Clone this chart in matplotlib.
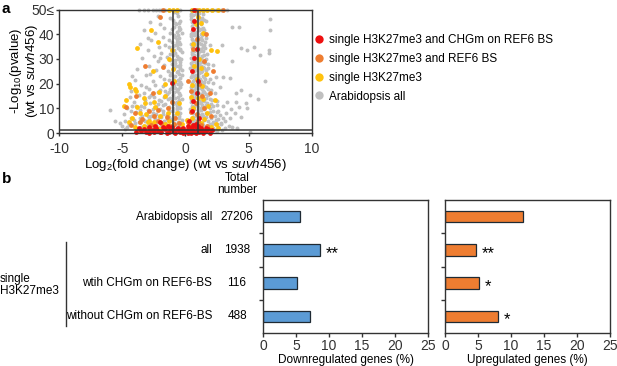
import matplotlib
matplotlib.use("Agg")
import matplotlib.pyplot as plt
from matplotlib.lines import Line2D
from matplotlib.transforms import blended_transform_factory

plt.rcParams['font.family'] = ['Liberation Sans', 'DejaVu Sans']
plt.rcParams['mathtext.fontset'] = 'custom'
plt.rcParams['mathtext.rm'] = 'Liberation Sans'
plt.rcParams['mathtext.it'] = 'Liberation Sans:italic'
plt.rcParams['mathtext.bf'] = 'Liberation Sans:bold'

# ---------------- Panel a: volcano plot data (log2 FC, -log10 p) ----------------
gray_points = [
    # right band
    (0.5,49.5),(0.8,49),(1.1,48.5),(1.4,49.2),(0.6,47.8),(1.0,47),(1.3,46.5),(0.4,46),(0.9,45.5),(1.6,45.2),(0.7,44.6),(1.2,44),
    (0.5,43.5),(0.9,43),(1.4,42.6),(0.6,42),(1.1,41.5),(0.8,41),(1.5,40.6),(0.4,40.2),(1.2,40),
    (0.7,39.5),(1.0,39),(1.6,38.6),(0.5,38.2),(1.3,37.8),(0.8,37.2),(1.1,36.6),(0.4,36.2),(1.5,35.8),(0.9,35.2),(1.9,35.5),
    (0.6,34.6),(1.2,34.2),(0.8,33.6),(1.4,33.2),(0.5,32.8),(1.0,32.2),(1.7,31.8),(0.7,31.4),(1.3,31),(0.4,30.5),(0.9,30.2),(1.6,30),
    (1.1,29.6),(0.6,29.2),(1.4,28.8),(0.8,28.3),(1.8,28),(0.5,27.6),(1.2,27.2),(0.9,26.7),(1.5,26.3),(0.4,25.9),(1.0,25.5),(2.2,27.5),(0.7,25.1),(1.3,25),
    (0.6,24.6),(1.1,24.2),(1.7,23.8),(0.8,23.4),(1.4,23),(0.4,22.6),(1.0,22.2),(1.9,21.8),(0.7,21.4),(1.2,21),(1.5,20.6),(0.5,20.2),(0.9,20),(2.4,22.5),
    (1.1,19.6),(0.6,19.2),(1.6,18.8),(0.8,18.4),(1.3,18),(2.0,17.6),(0.4,17.2),(1.0,16.8),(1.5,16.4),(0.7,16),(1.2,15.6),(1.8,15.2),(0.5,15),(2.3,16.2),
    (0.9,14.6),(1.4,14.2),(0.6,13.8),(2.1,13.4),(1.1,13),(0.4,12.6),(1.7,12.2),(0.8,11.8),(1.3,11.4),(2.5,11.5),(0.5,11),(1.0,10.6),(1.9,10.2),(1.5,10),
    (0.7,9.6),(1.2,9.2),(2.2,8.8),(0.4,8.4),(1.6,8),(0.9,7.6),(2.7,7.2),(1.4,6.8),(0.6,6.4),(2.0,6),(1.1,5.6),(0.3,5.2),(1.8,5),(2.4,5.4),(3.0,6.2),
    (0.5,4.6),(1.3,4.2),(2.1,3.8),(0.8,3.4),(1.7,3),(2.6,2.6),(0.3,2.2),(1.0,1.8),(2.3,1.4),(1.5,1),(3.1,2.0),(2.9,1.2),
    (0.55,44.8),(1.05,38),(0.65,35.8),(1.15,28.6),(0.75,18.9),(1.25,12.7),(0.95,8.3),(0.35,26.5),(1.55,21.8),(1.45,45.6),
    (0.45,48.2),(1.25,42.2),(0.85,39.8),(1.35,35),(0.55,31.8),(1.05,27.9),(0.65,23),(1.35,19.8),(0.85,15.4),(0.45,13.6),
    (1.65,14),(1.2,7.2),(0.75,5.2),(1.9,3.5),(0.35,9.8),(1.75,26.5),(1.0,34.5),(0.6,40.8),(1.15,46.2),(0.8,48),
    (0.45,47.2),(0.95,46.8),(1.35,48),(0.65,45.8),(1.2,45.2),(0.55,41.2),(1.0,42.5),(1.45,41.5),(0.75,40.2),(1.3,39.6),
    (0.45,39.2),(1.2,38.5),(0.95,37.8),(1.55,37),(0.6,37.2),(0.85,36.2),(1.25,36),(0.5,34.8),(1.55,34.4),(0.7,33.2),
    (1.15,33),(0.95,31.5),(1.45,31.6),(0.6,30.8),(1.2,30.2),(0.85,29.4),(1.55,28.4),(0.45,28.5),(1.0,27.6),(1.35,26.7),
    (0.6,26.3),(0.85,25.6),(1.6,25.4),(1.25,24.5),(0.5,23.6),(0.95,23.2),(1.5,22.7),(0.75,22.3),(1.15,21.7),(1.75,20.8),
    (0.6,21.2),(1.3,20.3),(0.85,19.7),(1.5,19.2),(0.45,18.6),(1.1,18.2),(1.8,17.8),(0.65,17.6),(1.4,17.2),(0.9,16.4),
    (1.6,15.8),(0.5,16.2),(1.25,14.8),(0.7,14.2),(1.9,13.8),(1.05,12.2),(1.5,12.8),(0.55,12.4),(0.9,11.2),(1.6,11.2),
    (2.2,10.8),(1.25,10.2),(0.7,10.8),(1.0,9.4),(1.5,9.6),(1.9,8.6),(2.5,8.4),(0.6,8.2),(1.3,7.8),(2.3,7),
    (0.8,6.8),(1.6,6.4),(2.6,5.8),(1.0,6.2),(0.5,5.4),(1.5,5.2),(2.2,4.6),(0.7,4.4),(1.1,4.0),(2.8,3.6),
    (1.4,3.4),(0.45,3.6),(1.9,2.2),(2.5,1.0),(1.2,2.6),(0.6,1.4),
    # left band
    (-0.9,49),(-0.6,47.5),(-1.2,46.5),(-0.4,45.5),
    (-0.8,44.5),(-0.5,43),(-1.1,42),(-0.7,41),(-0.3,40.3),
    (-0.9,39.5),(-0.5,38.5),(-1.3,37.8),(-0.7,37),(-0.4,36),(-1.0,35.3),
    (-0.6,34.5),(-0.9,33.6),(-0.3,32.8),(-1.2,32),(-0.7,31.2),(-0.5,30.4),(-1.5,30.8),
    (-0.8,29.6),(-0.4,28.8),(-1.1,28),(-0.6,27.2),(-0.9,26.4),(-0.3,25.6),(-1.4,25.2),
    (-0.7,24.6),(-0.5,23.8),(-1.0,23),(-0.4,22.2),(-1.3,21.4),(-0.8,20.6),(-0.6,20),
    (-0.9,19.4),(-0.4,18.6),(-1.2,17.8),(-0.7,17),(-0.5,16.2),(-1.5,15.6),(-1.0,15.2),
    (-0.6,14.6),(-0.3,13.8),(-1.1,13),(-0.8,12.2),(-1.6,11.6),(-0.5,11),(-1.3,10.4),
    (-0.7,9.6),(-1.0,8.8),(-0.4,8),(-1.5,7.2),(-0.8,6.4),(-1.2,5.6),(-0.3,5.2),
    (-0.6,4.6),(-1.0,3.8),(-0.4,3),(-1.4,2.2),(-0.8,1.6),(-0.2,1),
    (-0.55,41.8),(-0.85,35.8),(-0.45,26.4),(-0.95,21.8),(-0.65,12.6),(-0.75,44),(-0.35,30),(-1.05,18.5),
    (-0.65,38),(-1.15,24.2),(-0.45,33.5),(-0.85,28.2),(-0.35,19.8),(-0.95,10.2),(-0.55,7),(-1.1,2.8),
    (-0.7,48.4),(-1.0,45.6),(-0.5,44.6),(-0.9,42.8),(-0.4,42),(-1.2,40.5),(-0.6,39.8),(-0.8,38.8),(-1.1,37),(-0.5,36.8),
    (-0.7,35.6),(-1.3,34.8),(-0.4,34),(-0.8,32.2),(-1.0,31.4),(-0.6,29.8),(-1.2,29.6),(-0.4,27.6),(-0.8,27),(-1.0,25.8),
    (-0.6,25),(-1.2,23.6),(-0.8,23),(-0.3,23.4),(-0.6,21.6),(-1.1,20.8),(-0.4,20.6),(-0.8,18.2),(-1.3,16.6),(-0.6,17.8),
    (-0.9,16.8),(-0.4,15.4),(-1.2,14.2),(-0.8,14),(-0.5,13.2),(-1.4,13.6),(-1.0,11.8),(-0.7,11),(-0.4,10.2),(-1.2,9),
    (-0.6,8.6),(-0.9,7.4),(-1.3,6.6),(-0.5,6),(-1.0,5),(-0.7,3.4),(-1.6,4),(-1.2,1.4),(-0.4,1.8),
    # left cloud
    (-2.8,45),(-2.0,44),(-3.3,41.5),(-2.4,40.5),(-1.8,39),(-3.6,36),(-2.7,37.5),(-2.1,35),(-3.0,33.5),(-1.9,32.5),
    (-2.5,31),(-3.4,30.3),(-2.2,29),(-1.7,27.5),(-2.9,27),(-3.8,26),(-2.3,25.5),(-3.1,23.5),(-2.0,23),(-4.0,21.5),
    (-2.6,21),(-3.5,19.5),(-1.8,19),(-2.9,18),(-4.3,17),(-2.2,16.5),(-3.7,15.5),(-2.5,14.5),(-3.2,13.5),(-1.9,13),
    (-4.1,12.5),(-2.8,12),(-3.5,11),(-2.3,10.5),(-4.6,10),(-3.0,9.5),(-1.8,9),(-3.9,8.5),(-2.6,8),(-4.9,7.5),
    (-3.4,7),(-2.1,6.5),(-4.3,6),(-2.9,5.5),(-1.7,5),(-3.7,4.5),(-5.2,4.2),(-2.4,4),(-4.5,3.5),(-3.1,3),
    (-2.0,2.5),(-3.9,2),(-2.7,1.5),(-4.8,1.5),(-1.9,1),(-3.4,0.8),(-5.6,5),(-6.0,9.5),(-4.4,14.5),(-3.3,16),
    (-2.4,19.5),(-4.2,23),(-3.0,38.5),(-1.7,42.5),(-2.2,47.5),(-1.6,35.5),(-2.0,30.5),(-1.7,22),(-2.7,15.5),(-1.8,11.5),
    (-3.6,9.5),(-2.3,7.5),(-4.0,4),(-1.9,6.5),(-2.5,2.8),(-4.3,8.8),(-3.3,5.2),(-2.1,13.5),(-1.6,17),(-2.8,23.8),
    (-3.0,6.8),(-2.4,5.6),(-1.8,7.6),(-3.6,6.2),(-2.7,7),(-2.0,4.2),(-3.2,4.8),(-4.1,5.2),(-2.5,1.8),(-1.7,3),
    (-3.5,2.6),(-2.9,3.8),(-2.1,1.6),(-4.6,2.4),(-1.8,1.8),(-3.8,1.4),(-2.3,3.4),(-1.5,5.6),(-2.6,9.8),(-3.3,10.5),
    (-2.0,9.6),(-3.9,11),(-2.2,11.8),(-1.7,14.5),(-2.9,14.6),(-3.1,18.5),(-2.0,17.5),(-4.2,10.8),(-4.8,5),(-5.0,2.8),
    # right cloud
    (3.65,42.8),(4.2,42.8),(6.67,46),(6.67,41.7),(2.9,35.6),(5.4,35),(4.4,34.3),(4.9,33.6),(6.6,33.6),(6.6,32.3),
    (5.9,31.6),(3.7,29.3),(3.0,22.8),(3.5,22.1),(6.3,21.2),(4.0,16),(4.4,17.5),(5.1,15.4),(5.7,13.6),(4.0,12.7),
    (4.8,12),(4.2,10.7),(4.9,10),(3.9,8),(4.4,6.6),(3.5,6),(2.6,9),(3.2,8),(2.8,4),(3.4,3),
    (3.7,2.5),(4.1,2),(3.0,11),(2.5,13),(5.1,0.3),(2.7,18.5),(3.3,12.5),(3.6,9.8),(2.2,20.2),(2.0,11.8),
    (3.1,4.8),(2.5,3.8),(2.2,2.2),
    # top row (50 or more)
    (-3.3,50),(-3.0,50),(-2.6,50),(-2.3,50),(-1.9,50),(-1.6,50),(-1.3,50),(-1.0,50),(-0.7,50),(-0.4,50),
    (0.4,50),(0.7,50),(1.0,50),(1.3,50),(1.7,50),(2.0,50),(2.4,50),(2.8,50),(3.3,50),(-3.7,50),(-2.1,50),(1.5,50),(2.2,50),
]

yellow_points = [
    (-2.7,41.7),(-3.8,34.3),(-2.6,25),(-1.3,29.8),(-4.5,20),(-4.4,18.5),(-4.0,18.0),(-3.9,17),(-4.9,11),(-3.3,14),
    (-2.5,12.5),(-2.4,10.5),(-1.6,20),(-1.6,15),(-1.0,26),(-3.6,8),(-4.2,6),(-2.9,5),(-2.0,7),(-1.3,5),
    (-3.3,3),(-2.3,2.5),(-4.0,2.5),(-1.6,3.5),(-0.7,8),(-0.5,12),(-1.1,33.5),(-0.9,21),(-2.2,37),(-3.1,7.5),
    (-1.3,50),(-1.0,50),(-0.7,50),(0.5,50),(1.1,50),(1.4,50),(1.7,50),(2.1,50),(2.6,50),
    (1.0,47),(1.2,44.5),(0.6,36),(1.1,30),(2.0,33.5),(2.5,33),(1.6,24),(0.9,22),(1.3,19),(1.0,14),
    (2.3,13.3),(0.6,10),(1.7,8),(0.5,6),(1.2,4),(0.3,3),(2.0,2.5),(2.6,2),(1.4,40.5),(0.7,27),
    (-2.0,1.5),(-3.6,1.2),(-1.4,8.2),(0.4,14.5),(1.8,11),(-2.7,3.8),
    (-3.0,4.3),(-2.5,4.6),(-1.0,3.2),(-0.3,3.6),(0.1,5.2),(1.5,5.6),(2.4,3.5),(-4.5,4.5),(-3.8,10.5),(-3.2,12),
    (-4.7,13.5),(-2.1,16.5),(1.4,13.6),(0.5,19.6),(1.2,26.2),(0.8,44),
]

orange_points = [
    (0.85,50),(3.0,50),(-1.8,50),(-2.0,47),(-3.2,27),(-1.75,26.9),(-2.6,16),(-3.9,15),(-2.9,9),(-4.7,10.5),
    (-1.4,10),(-2.2,5),(-3.6,4.3),(-0.8,6),(1.6,40),(0.6,34),(1.5,29),(2.2,25),(1.1,20),(0.4,17),
    (1.9,16),(0.8,12),(1.5,10),(0.4,8.5),(2.0,7),(1.0,5),(0.6,3),(1.7,3),(-1.2,3),(-0.5,4),
    (-3.0,1.8),(0.2,21),(-4.3,3.2),(-2.5,6.8),(-1.1,12.5),(0.9,38),(1.3,15),
    (-2.7,3.4),(-1.9,4),(-0.9,3.8),(0.2,4.5),(1.2,3.2),(-3.4,5.8),(-1.5,6.5),(0.9,7.8),(-2.2,9.3),(-4.0,8.0),
]

red_points = [
    (0.7,45.5),(0.6,42),(0.9,34),(0.7,30.5),(0.5,25.3),(1.0,21),(0.9,16),(0.6,13),(0.5,9),(1.1,6),
    (0.8,3.5),(0.3,5),(1.6,2),(0.7,50),(-1.06,20.4),(-2.0,4.5),
    (-3.5,1),(-3.1,0.5),(-2.8,1.4),(-2.5,0.3),(-2.2,1),(-1.9,0.6),(-1.6,1.5),(-1.3,0.4),(-1.0,1.1),(-0.8,0.2),
    (-0.5,0.8),(-0.3,1.6),(-0.1,0.4),(0.1,1.2),(0.3,0.6),(0.5,1.8),(0.7,0.3),(0.9,1.0),(1.1,0.5),(1.3,1.4),
    (1.6,0.7),(1.9,0.2),(-2.9,2.4),(-1.8,2.6),(-0.6,2.2),(0.2,2.8),(0.8,2.5),(-1.5,0.1),(-0.2,0.1),(0.4,0.1),
    (-2.3,2.0),(1.0,2.9),(-3.9,0.4),(2.1,1.3),
    (-3.3,1.8),(-2.6,1.2),(-2.0,0.3),(-1.7,2.0),(-1.1,2.4),(-0.9,0.6),(-0.4,0.3),(-0.2,2.0),(0.0,0.9),(0.2,0.2),
    (0.6,1.0),(0.8,0.1),(1.2,2.0),(1.4,0.2),(1.8,1.6),(-2.4,2.8),(-1.4,3.0),(-0.7,1.5),(0.4,2.2),(-3.7,2.2),
    (-2.9,0.2),(1.0,1.5),(-1.2,1.9),(0.6,3.2),
]

legend_labels = ["single H3K27me3 and CHGm on REF6 BS",
                 "single H3K27me3 and REF6 BS",
                 "single H3K27me3",
                 "Arabidopsis all"]

# ---------------- Panel b: bar data ----------------
categories = ["Arabidopsis all", "all", "wtih CHGm on REF6-BS", "without CHGm on REF6-BS"]
total_numbers = ["27206", "1938", "116", "488"]
down_pct = [5.65, 8.6, 5.15, 7.15]
up_pct = [11.75, 4.7, 5.15, 7.98]
down_sig = ["", "**", "", ""]
up_sig = ["", "**", "*", "*"]

c_gray = "#c0c0c0"
c_yellow = "#ffc20e"
c_orange = "#ee7d31"
c_red = "#ee1010"
c_blue = "#5b9bd5"
edge = "#1f2a33"
spine_c = "#333333"

W, H = 617, 366
fig = plt.figure(figsize=(W / 100, H / 100), dpi=100)

def fx(px):
    return px / W

def fy(py):
    return 1 - py / H

# ---- panel a
axa = fig.add_axes([fx(59), fy(133), fx(312) - fx(59), fy(9.5) - fy(133)])
for pts, col, s in [(gray_points, c_gray, 8), (yellow_points, c_yellow, 12),
                    (orange_points, c_orange, 12), (red_points, c_red, 12)]:
    xs = [p[0] for p in pts]
    ys = [p[1] for p in pts]
    axa.scatter(xs, ys, s=s, c=col, linewidths=0, clip_on=False, zorder=2)
axa.axvline(-1, color=spine_c, lw=1.1, zorder=3)
axa.axvline(1, color=spine_c, lw=1.1, zorder=3)
axa.axhline(1.301, color=spine_c, lw=1.1, zorder=3)
axa.set_xlim(-10, 10)
axa.set_ylim(0, 50)
axa.set_xticks([-10, -5, 0, 5, 10])
axa.set_xticklabels(["-10", "-5", "0", "5", "10"])
axa.set_yticks([0, 10, 20, 30, 40, 50])
axa.set_yticklabels(["0", "10", "20", "30", "40", "50≤"])
axa.tick_params(labelsize=10, length=2.5, width=1, colors=spine_c, pad=1)
axa.tick_params(axis="x", pad=4)
for sp in axa.spines.values():
    sp.set_color(spine_c)
    sp.set_linewidth(1)
axa.set_xlabel(r"Log$_2$(fold change) (wt vs $\it{suvh456}$)", fontsize=9.5, labelpad=1)
fig.text(fx(24), fy(71), "-Log$_{10}$(pvalue)\n" + r"(wt vs $\it{suvh456}$)", fontsize=9.5,
         rotation=90, ha="center", va="center", linespacing=0.95)

handles = [Line2D([], [], ls="none", marker="o", ms=6, mfc=c, mec="none")
           for c in [c_red, c_orange, c_yellow, c_gray]]
fig.legend(handles, legend_labels, loc="upper left", bbox_to_anchor=(fx(314), fy(34)),
           frameon=False, fontsize=8.5, handlelength=0.8, handletextpad=0.5,
           labelspacing=0.58, borderpad=0, borderaxespad=0)

# ---- panel b
positions = list(range(len(categories)))
axl = fig.add_axes([fx(263), fy(333), fx(428) - fx(263), fy(200) - fy(333)])
axr = fig.add_axes([fx(445), fy(333), fx(610) - fx(445), fy(200) - fy(333)])
for ax, vals, col, sig, lab in [(axl, down_pct, c_blue, down_sig, "Downregulated genes (%)"),
                                (axr, up_pct, c_orange, up_sig, "Upregulated genes (%)")]:
    ax.barh(positions, vals, height=0.34, color=col, edgecolor=edge, linewidth=0.9)
    for p, v, s in zip(positions, vals, sig):
        if s:
            ax.text(v + 0.9, p + 0.1, s, fontsize=12, ha="left", va="center")
    ax.set_ylim(3.5, -0.5)
    ax.set_xlim(0, 25)
    ax.set_xticks([0, 5, 10, 15, 20, 25])
    ax.set_yticks([0.5, 1.5, 2.5])
    ax.set_yticklabels([])
    ax.tick_params(labelsize=10, length=3, width=1, colors=spine_c, pad=1)
    for sp in ax.spines.values():
        sp.set_color(spine_c)
        sp.set_linewidth(1)
    ax.set_xlabel(lab, fontsize=8.5, labelpad=1)

# category labels and totals
trans = blended_transform_factory(fig.transFigure, axl.transData)
for p, name, tot in zip(positions, categories, total_numbers):
    axl.text(fx(212), p, name, transform=trans, ha="right", va="center", fontsize=8.5)
    axl.text(fx(237), p, tot, transform=trans, ha="center", va="center", fontsize=8.5)

fig.text(fx(237), fy(184), "Total\nnumber", ha="center", va="center", fontsize=8.5, linespacing=1.0)
fig.add_artist(Line2D([fx(66), fx(66)], [fy(242), fy(326)], color=spine_c, lw=1))
fig.text(fx(0), fy(285), "single\nH3K27me3", ha="left", va="center", fontsize=8.5, linespacing=0.95)

fig.text(fx(2), fy(9), "a", fontsize=11, fontweight="bold", ha="left", va="center")
fig.text(fx(2), fy(179), "b", fontsize=11, fontweight="bold", ha="left", va="center")

fig.savefig("out.png", dpi=100)
